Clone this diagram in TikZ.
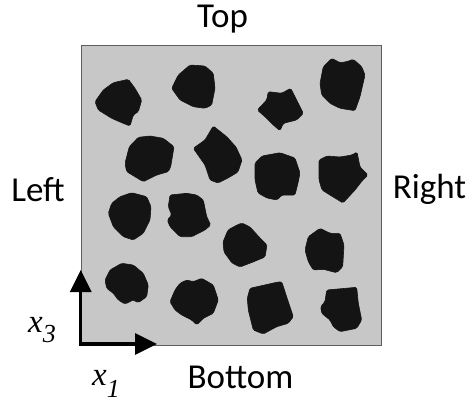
\documentclass[tikz,border=0pt]{standalone}
\usepackage{fontspec}
\setmainfont{Carlito}
\newfontfamily\tms{Liberation Serif}
\usetikzlibrary{arrows.meta}
\definecolor{matrixgray}{RGB}{199,199,199}
\definecolor{edgegray}{RGB}{95,95,95}
\definecolor{partblack}{RGB}{20,20,20}
\tikzset{
  particle/.style={fill=partblack, draw=partblack, line width=0.6pt, rounded corners=1.5pt},
  sidelabel/.style={font=\fontsize{35}{40}\selectfont, anchor=base, inner sep=0pt},
  axisarrow/.style={line width=3.2pt, -{Triangle[length=22pt,width=21pt]}},
  axislabel/.style={anchor=base west, inner sep=0pt}
}
\newcommand\axname[2]{{\tms\itshape\fontsize{33}{36}\selectfont x\raisebox{#2}{\fontsize{26}{30}\selectfont #1}}}
\begin{document}
\begin{tikzpicture}[x=1pt,y=-1pt]
\useasboundingbox (0,0) rectangle (469,404);
% matrix square
\filldraw[fill=matrixgray, draw=edgegray, line width=1pt] (81,46) rectangle (381,345);
% particles
\fill[particle] (95,101.7) -- (103.3,90) -- (113.3,82.7) -- (128.3,79.3) -- (135,88.3) -- (141.7,100) -- (138.3,111.7) -- (133.3,115) -- (130,126) -- (121.7,122.7) -- (111.7,118.3) -- (98.3,110) -- cycle;
\fill[particle] (171.7,88.3) -- (178.3,75) -- (190,65) -- (205,66) -- (213.3,73.3) -- (215,88.3) -- (211.7,105) -- (205,108.3) -- (193.3,106.7) -- (180,100) -- cycle;
\fill[particle] (125,163.3) -- (129.3,146.7) -- (138.3,137.3) -- (150,136) -- (163.3,138.3) -- (174,146.7) -- (170.7,166.7) -- (168.3,171.7) -- (156.7,175) -- (143.3,181.7) -- (135,176.7) -- (126.7,171.7) -- cycle;
\fill[particle] (193.3,148.3) -- (205,140) -- (213.3,126) -- (226.7,136.7) -- (236,147) -- (242,160) -- (238,172) -- (228,178) -- (218,183) -- (210,180) -- (205,165) -- cycle;
\fill[particle] (257.3,110) -- (266.7,100) -- (268.3,91.7) -- (281.7,93.3) -- (290.7,88.3) -- (295,96.7) -- (303.3,113.3) -- (296.7,120) -- (283.3,123.3) -- (280,130.7) -- (273.3,125) -- (266.7,118.3) -- cycle;
\fill[particle] (320,83.3) -- (323.3,66.7) -- (331.7,58.3) -- (340,62.7) -- (346.7,61.7) -- (353.3,59.3) -- (361.7,66.7) -- (365,75) -- (360,96.7) -- (355,110.7) -- (340,108.3) -- (330,103.3) -- (321.7,95) -- cycle;
\fill[particle] (255,163) -- (262,156) -- (280,152.7) -- (295,158) -- (300,173) -- (298,183) -- (295,195) -- (282,195) -- (277,200) -- (267,198) -- (258,193) -- (255,180) -- cycle;
\fill[particle] (319,160) -- (327,156) -- (340,157) -- (352,155) -- (357,152) -- (360,167) -- (368,175) -- (362,181) -- (355,190) -- (343,203) -- (330,195) -- (322,190) -- (319,180) -- cycle;
\fill[particle] (108.3,213.3) -- (111.7,203.3) -- (120,196.7) -- (131.7,192.7) -- (146.7,196.7) -- (151,206.7) -- (150,220) -- (143.3,233.3) -- (133.3,240) -- (123.3,236.7) -- (113.3,226.7) -- cycle;
\fill[particle] (170,195) -- (186.7,193.3) -- (196.7,195) -- (203.3,200) -- (206.7,216.7) -- (210.7,225) -- (205,230) -- (191.7,236.7) -- (180,236.7) -- (170,226.7) -- (167.3,220) -- (171.7,215) -- (168.3,206.7) -- cycle;
\fill[particle] (223,242) -- (228,230) -- (237,225) -- (242,223) -- (250,227) -- (260,238) -- (267,245) -- (265,257) -- (253,262) -- (240,267) -- (232,263) -- (224,252) -- cycle;
\fill[particle] (305,250) -- (308.3,236.7) -- (320,228.3) -- (330,233.3) -- (340,233.3) -- (344,245) -- (342.7,266.7) -- (336.7,272.7) -- (323.3,269.3) -- (313.3,270) -- (308.3,261.7) -- cycle;
\fill[particle] (105,280) -- (110,270) -- (121.7,263.3) -- (133.3,265) -- (143.3,273.3) -- (148.3,285) -- (146.7,296.7) -- (138.3,302.7) -- (133.3,300) -- (125,304) -- (118.3,300) -- (113.3,293.3) -- (106.7,288.3) -- cycle;
\fill[particle] (170,301.7) -- (175,290) -- (180,283.3) -- (186.7,280) -- (193.3,281.7) -- (201.7,278.3) -- (213.3,285) -- (218.3,300) -- (213.3,313.3) -- (203.3,318.3) -- (196.7,325) -- (191.7,320) -- (181.7,315) -- (175,310) -- cycle;
\fill[particle] (250,288.3) -- (276.7,282.3) -- (281.7,281.7) -- (288.3,301.7) -- (293.3,316.7) -- (288.3,323.3) -- (276.7,326.7) -- (263.3,334) -- (253.3,330) -- (248.3,310) -- (247.3,298.3) -- cycle;
\fill[particle] (326.7,290) -- (356.7,287.3) -- (358.3,303.3) -- (361.7,320) -- (356.7,328.3) -- (340,331.7) -- (333.3,326.7) -- (330,320) -- (321.7,313.3) -- (320.7,306.7) -- (325,301.7) -- cycle;
% axes
\coordinate (origin) at (80.7,344);
\coordinate (x3tip) at (80.7,270);
\coordinate (x1tip) at (157,344);
\draw[axisarrow] ([yshift=1.6pt]origin) -- (x3tip);
\draw[axisarrow] ([xshift=-1.6pt]origin) -- (x1tip);
% labels
\node[sidelabel] (top) at (222.5,28) {Top};
\node[sidelabel] (left) at (38,201) {Left};
\node[sidelabel] (right) at (429.5,198) {Right};
\node[sidelabel] (bottom) at (240.5,388) {Bottom};
\node[axislabel] (x3) at (28,332) {\axname{3}{-10pt}};
\node[axislabel] (x1) at (92,385) {\axname{1}{-12pt}};
\end{tikzpicture}
\end{document}
